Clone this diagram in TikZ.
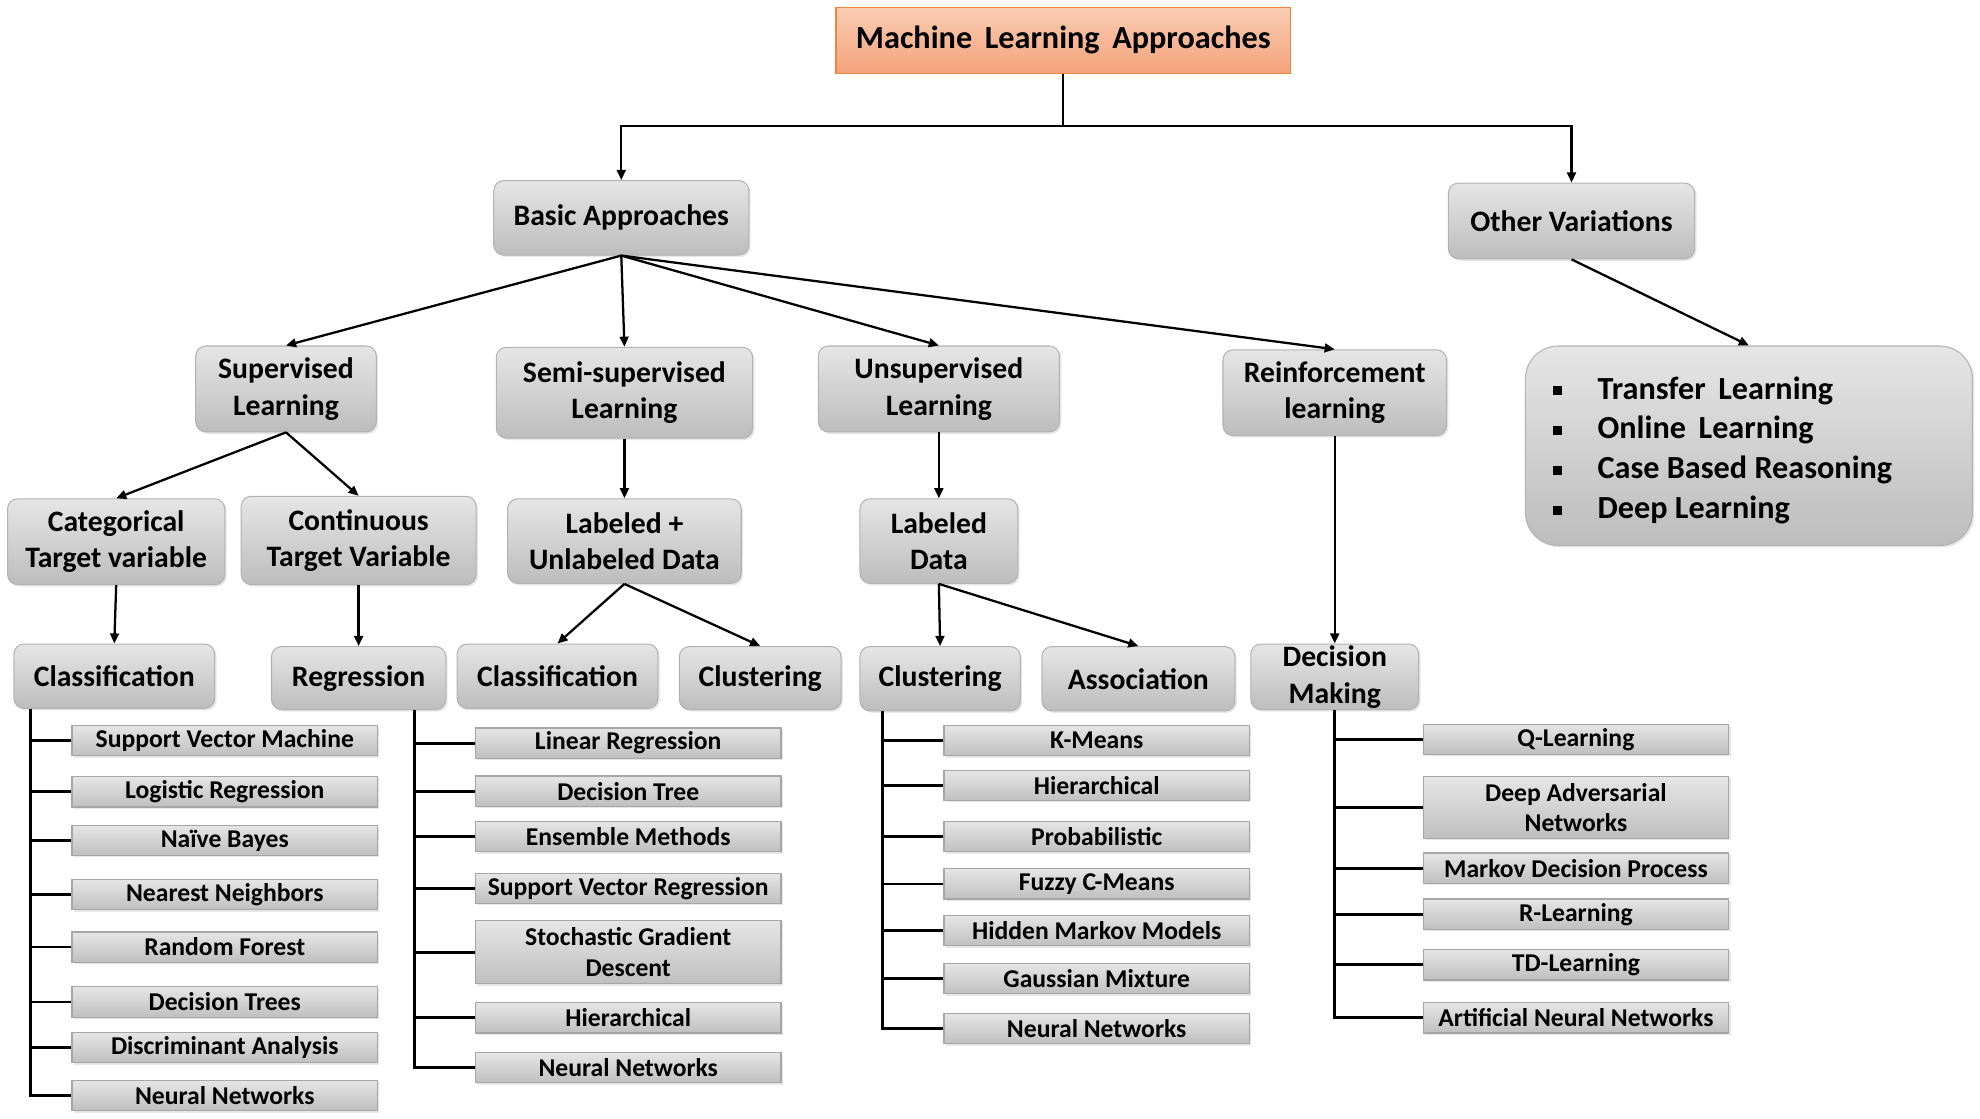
\documentclass[tikz,border=0pt]{standalone}
\usepackage{fontspec}
\setmainfont{Carlito}
\usetikzlibrary{arrows.meta,shadows,calc}
\definecolor{ttop}{HTML}{F9CDB3}
\definecolor{tbot}{HTML}{F4A27C}
\definecolor{tbord}{HTML}{F0853C}
\begin{document}
\begin{tikzpicture}[x=1pt,y=-1pt,
  mbox/.style={draw=black!30, line width=0.8pt, rounded corners=8pt,
    top color=black!10, bottom color=black!26, align=center, inner sep=0pt,
    font=\fontsize{23.5}{29}\selectfont\bfseries,
    drop shadow={shadow xshift=1.5pt,shadow yshift=-1.5pt,opacity=0.2}},
  ibox/.style={draw=black!35, line width=1pt, top color=black!10, bottom color=black!25,
    align=center, inner sep=0pt, minimum width=242, minimum height=24,
    font=\fontsize{20.3}{24}\selectfont\bfseries,
    drop shadow={shadow xshift=1.5pt,shadow yshift=-1.5pt,opacity=0.2}},
  arr/.style={line width=1.8pt, -{Triangle[length=8pt,width=7pt]}},
  ll/.style={line width=2.2pt}
]
\useasboundingbox (0,0) rectangle (1568,885.4);

% title
\node[draw=tbord, line width=1pt, top color=ttop, bottom color=tbot, minimum width=360, minimum height=52,
  font=\fontsize{25.5}{30}\selectfont\bfseries, inner sep=0pt] (title) at (842,32) {\raisebox{-2pt}{Machine\, Learning\, Approaches}};

% level 1
\node[mbox, minimum width=202, minimum height=59] (ba) at (492,172.5) {Basic Approaches};
\node[mbox, minimum width=195, minimum height=60] (ov) at (1244.5,175) {Other Variations};

% level 2
\node[mbox, minimum width=143, minimum height=68] (sup) at (226.5,308) {Supervised\\Learning};
\node[mbox, minimum width=203, minimum height=72] (semi) at (494.5,311) {Semi-supervised\\Learning};
\node[mbox, minimum width=191, minimum height=68] (uns) at (743.5,308) {Unsupervised\\Learning};
\node[mbox, minimum width=177, minimum height=68] (rl) at (1057,311) {Reinforcement\\learning};
\node[mbox, rounded corners=26pt, minimum width=354, minimum height=158] (ob) at (1385,353) {};
\node[anchor=west, align=left, inner sep=0pt, font=\fontsize{25.5}{31.5}\selectfont\bfseries] (obt) at (1230,356.5)
  {\rule[3pt]{7pt}{7pt}\hspace{28pt}Transfer\, Learning\\
   \rule[3pt]{7pt}{7pt}\hspace{28pt}Online\, Learning\\
   \rule[3pt]{7pt}{7pt}\hspace{28pt}Case Based Reasoning\\
   \rule[3pt]{7pt}{7pt}\hspace{28pt}Deep Learning};

% level 3
\node[mbox, minimum width=172, minimum height=68] (cat) at (92,429) {Categorical\\Target variable};
\node[mbox, minimum width=186, minimum height=70] (con) at (284,428) {Continuous\\Target Variable};
\node[mbox, minimum width=185, minimum height=67] (lu) at (494.5,428.5) {Labeled +\\Unlabeled Data};
\node[mbox, minimum width=125, minimum height=67] (ld) at (743.5,428.5) {Labeled\\Data};

% level 4
\node[mbox, minimum width=159, minimum height=51] (cls) at (90.5,535.5) {Classification};
\node[mbox, minimum width=138, minimum height=50] (reg) at (284,537) {Regression};
\node[mbox, minimum width=159, minimum height=51] (cls2) at (441.5,535.5) {Classification};
\node[mbox, minimum width=128, minimum height=50] (clu) at (602,537) {Clustering};
\node[mbox, minimum width=127, minimum height=51] (clu2) at (744.5,537.5) {Clustering};
\node[mbox, minimum width=153, minimum height=51] (asc) at (901.5,537.5) {Association};
\node[mbox, minimum width=133, minimum height=52] (dm) at (1057,536) {Decision\\Making};

% arrows
\coordinate (hub) at (842,100);
\draw[line width=1.8pt] (title.south) -- (hub);
\draw[arr] (hub) -| (ba.north);
\draw[arr] (hub) -| (ov.north);
\draw[arr] (ba.south) -- (sup.north);
\draw[arr] (ba.south) -- (semi.north);
\draw[arr] (ba.south) -- (uns.north);
\draw[arr] (ba.south) -- (rl.north);
\draw[arr] (ov.south) -- (ob.north);
\draw[arr] (sup.south) -- (cat.north);
\draw[arr] (sup.south) -- (con.north);
\draw[arr] (cat.south) -- (cls.north);
\draw[arr] (con.south) -- (reg.north);
\draw[arr] (semi.south) -- (lu.north);
\draw[arr] (lu.south) -- (cls2.north);
\draw[arr] (lu.south) -- (clu.north);
\draw[arr] (uns.south) -- (ld.north);
\draw[arr] (ld.south) -- (clu2.north);
\draw[arr] (ld.south) -- (asc.north);
\draw[arr] (rl.south) -- (dm.north);

% classification list
\node[ibox] (a1) at (178,586.5) {Support Vector Machine};
\node[ibox] (a2) at (178,627) {Logistic Regression};
\node[ibox] (a3) at (178,665.5) {Naïve Bayes};
\node[ibox] (a4) at (178,708.5) {Nearest Neighbors};
\node[ibox] (a5) at (178,750) {Random Forest};
\node[ibox] (a6) at (178,793.5) {Decision Trees};
\node[ibox] (a7) at (178,829.5) {Discriminant Analysis};
\node[ibox] (a8) at (178,867.5) {Neural Networks};
\coordinate (va) at ($(cls.south)+(-66.5,0)$);
\draw[ll] (va) |- (a8.west);
\foreach \i in {1,...,7} \draw[ll] (va |- a\i.west) -- (a\i.west);

% regression list
\node[ibox] (b1) at (497.5,588.5) {Linear Regression};
\node[ibox] (b2) at (497.5,626.5) {Decision Tree};
\node[ibox] (b3) at (497.5,662.5) {Ensemble Methods};
\node[ibox] (b4) at (497.5,703.5) {Support Vector Regression};
\node[ibox, minimum height=50] (b5) at (497.5,754) {Stochastic Gradient\\Descent};
\node[ibox] (b6) at (497.5,806) {Hierarchical};
\node[ibox] (b7) at (497.5,845.5) {Neural Networks};
\coordinate (vb) at ($(reg.south)+(44,0)$);
\draw[ll] (vb) |- (b7.west);
\foreach \i in {1,...,6} \draw[ll] (vb |- b\i.west) -- (b\i.west);

% clustering list
\node[ibox] (c1) at (868.5,586.5) {K-Means};
\node[ibox] (c2) at (868.5,622) {Hierarchical};
\node[ibox] (c3) at (868.5,662.5) {Probabilistic};
\node[ibox] (c4) at (868.5,700) {Fuzzy C-Means};
\node[ibox] (c5) at (868.5,737) {Hidden Markov Models};
\node[ibox] (c6) at (868.5,775) {Gaussian Mixture};
\node[ibox] (c7) at (868.5,814.5) {Neural Networks};
\coordinate (vc) at ($(clu2.south)+(-45.5,0)$);
\draw[ll] (vc) |- (c7.west);
\foreach \i in {1,...,6} \draw[ll] (vc |- c\i.west) -- (c\i.west);

% decision making list
\node[ibox] (d1) at (1248,585.5) {Q-Learning};
\node[ibox, minimum height=49] (d2) at (1248,639.5) {Deep Adversarial\\Networks};
\node[ibox] (d3) at (1248,687.5) {Markov Decision Process};
\node[ibox] (d4) at (1248,724) {R-Learning};
\node[ibox] (d5) at (1248,764) {TD-Learning};
\node[ibox] (d6) at (1248,806) {Artificial Neural Networks};
\coordinate (vd) at (dm.south);
\draw[ll] (vd) |- (d6.west);
\foreach \i in {1,...,5} \draw[ll] (vd |- d\i.west) -- (d\i.west);
\end{tikzpicture}
\end{document}
